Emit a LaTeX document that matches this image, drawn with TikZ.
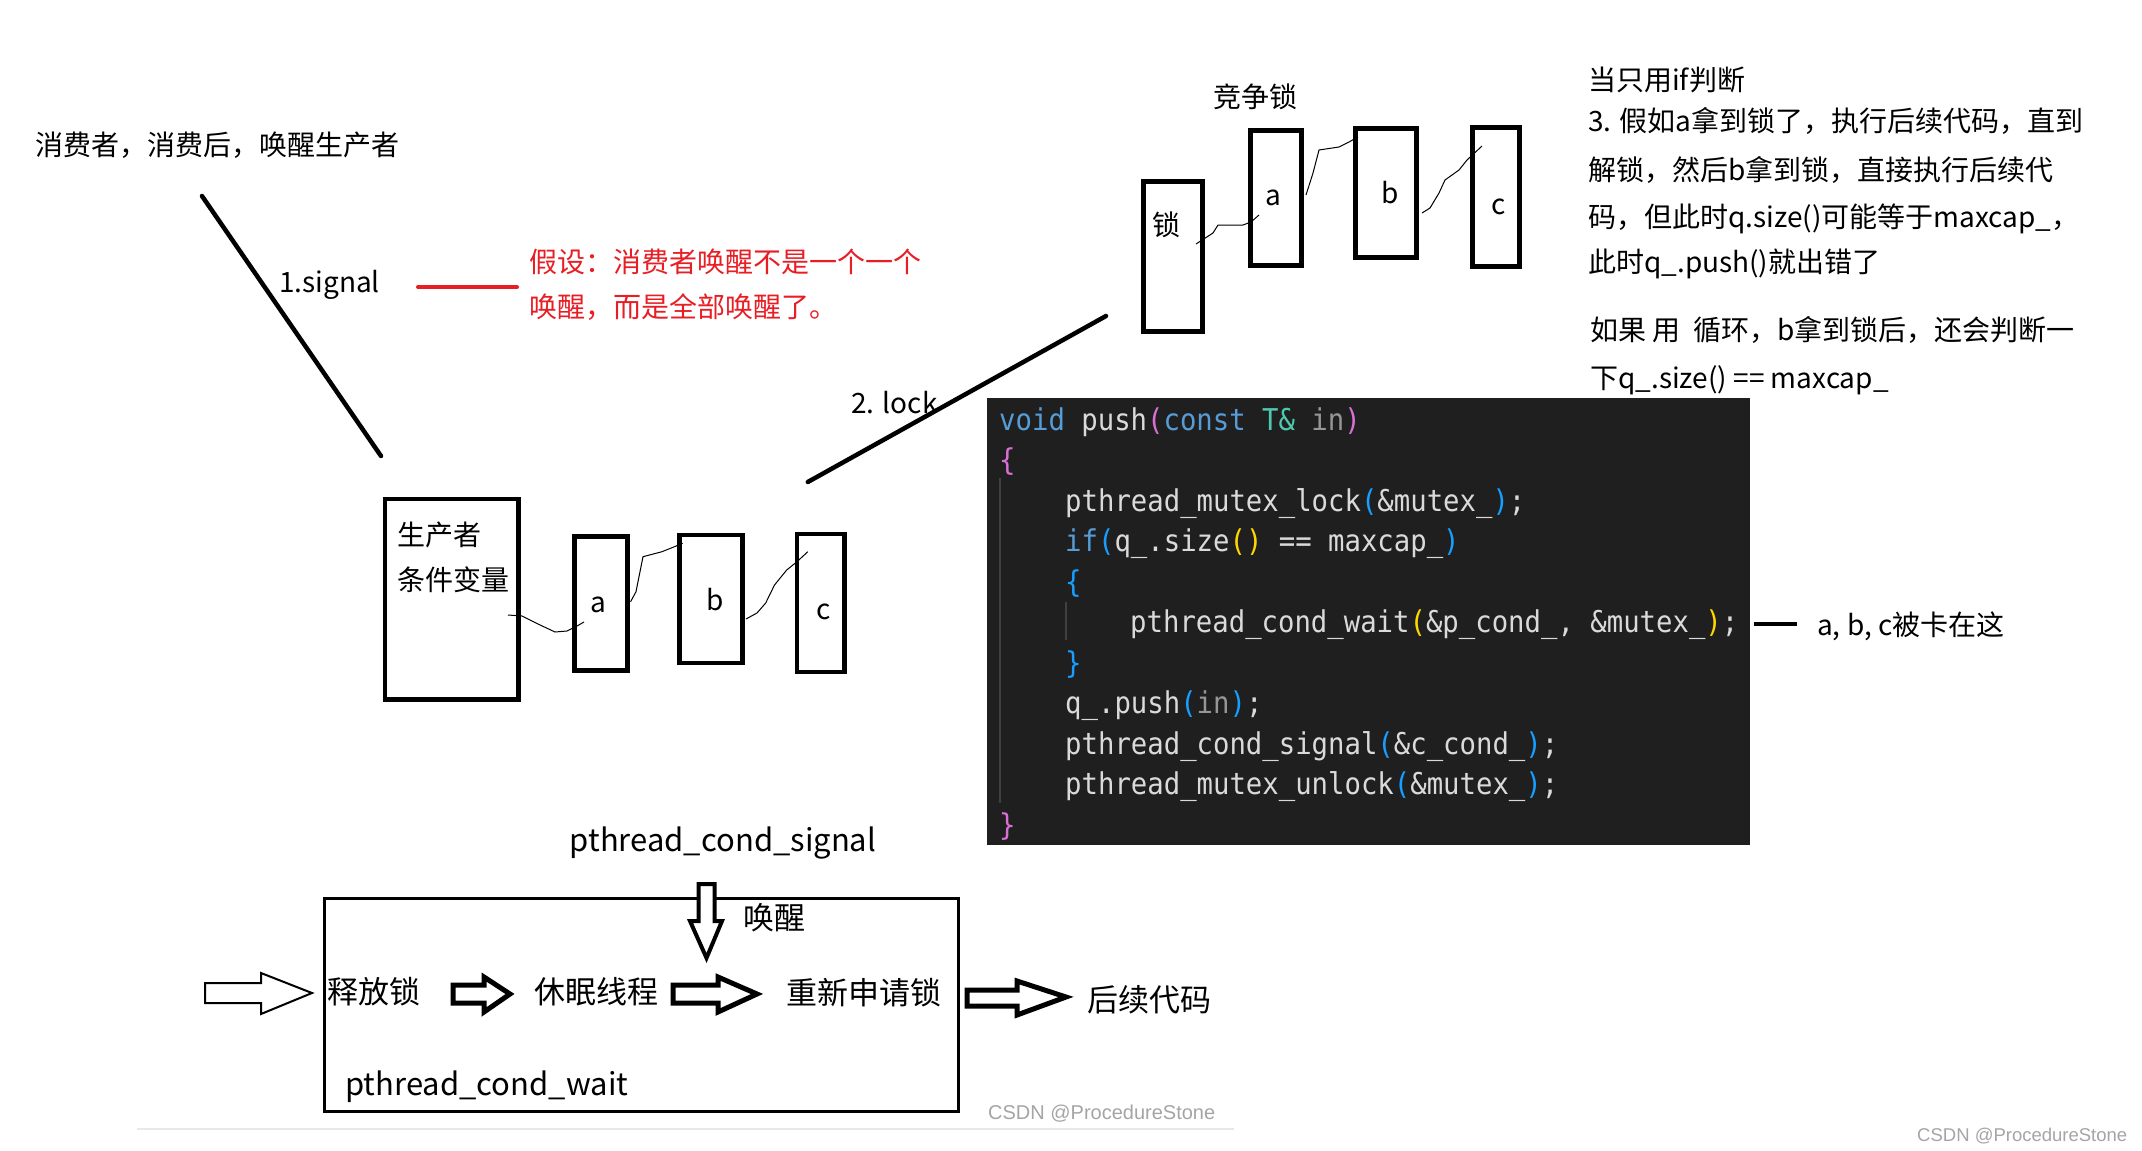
\documentclass[tikz,border=0pt]{standalone}
\usepackage{fontspec}
\newfontfamily\cjk{Noto Sans CJK SC}
\newfontfamily\codefont[FakeStretch=0.91]{DejaVu Sans Mono}
\newfontfamily\wmfont{Liberation Sans}
\definecolor{redtxt}{RGB}{232,30,37}
\definecolor{codebg}{RGB}{31,31,31}
\definecolor{codefg}{RGB}{218,218,218}
\definecolor{ckw}{RGB}{86,156,214}
\definecolor{cty}{RGB}{78,201,176}
\definecolor{cdm}{RGB}{150,150,150}
\definecolor{cpk}{RGB}{218,112,214}
\definecolor{cbl}{RGB}{23,159,255}
\definecolor{cyl}{RGB}{255,215,0}
\definecolor{guide}{RGB}{64,64,64}
\definecolor{wm}{RGB}{165,165,165}
\newcommand\cKw[1]{\textcolor{ckw}{#1}}
\newcommand\cTy[1]{\textcolor{cty}{#1}}
\newcommand\cDm[1]{\textcolor{cdm}{#1}}
\newcommand\cPk[1]{\textcolor{cpk}{#1}}
\newcommand\cBl[1]{\textcolor{cbl}{#1}}
\newcommand\cYl[1]{\textcolor{cyl}{#1}}
\begin{document}
\begin{tikzpicture}[x=1pt,y=-1pt,
  txt/.style={inner sep=0pt, anchor=base west, font=\cjk\fontsize{28}{34}\selectfont},
  txtb/.style={inner sep=0pt, anchor=base west, font=\cjk\fontsize{31}{37}\selectfont},
  lab/.style={inner sep=0pt, anchor=center, font=\cjk\fontsize{28}{34}\selectfont},
  code/.style={inner sep=0pt, anchor=base west, text=codefg, font=\codefont\fontsize{30}{36}\selectfont},
  qbox/.style={draw, line width=4.5pt, inner sep=0pt},
  tbox/.style={draw, line width=5pt, inner sep=0pt},
  stroke/.style={line width=4.5pt, line cap=round},
  wiggle/.style={line width=1pt},
  wmark/.style={inner sep=0pt, anchor=base west, text=wm, font=\wmfont\fontsize{20}{24}\selectfont},
]
\useasboundingbox (0,0) rectangle (2142,1151);
\fill[white] (0,0) rectangle (2142,1151);

% ---------- top-left ----------
\node[txt] (t1) at (35,155.5) {消费者，消费后，唤醒生产者};
\coordinate (s1a) at (202,196);
\coordinate (s1b) at (381,456);
\draw[stroke] (s1a) -- (s1b);
\node[txt] (sig) at (279,292) {1.signal};
\coordinate (r1) at (418,287);
\coordinate (r2) at (517,287);
\draw[line width=4pt, redtxt, line cap=round] (r1) -- (r2);
\node[txt, text=redtxt] (rt1) at (529,272.5) {假设：消费者唤醒不是一个一个};
\node[txt, text=redtxt] (rt2) at (529,317.5) {唤醒，而是全部唤醒了。};

% ---------- producer and queue ----------
\node[qbox, minimum width=133.7pt, minimum height=200.5pt] (prod) at (451.7,599.2) {};
\node[txt] (p1) at (397,545.5) {生产者};
\node[txt] (p2) at (397,590.5) {条件变量};
\node[qbox, minimum width=53.1pt, minimum height=134.2pt] (qa) at (600.8,603.4) {};
\node[qbox, minimum width=63.1pt, minimum height=127.8pt] (qb) at (710.8,598.9) {};
\node[qbox, minimum width=47.4pt, minimum height=137.8pt] (qc) at (820.8,602.9) {};
\node[lab] (qal) at (598,605) {a};
\node[lab] (qbl) at (715,600) {b};
\node[lab] (qcl) at (824,612) {c};
\draw[wiggle] (508,615) -- (522,616) -- (538,624) -- (555,632) -- (567,631) -- (577,626) -- (584,622);
\draw[wiggle] (630.6,601.7) -- (636,591.7) -- (643,556.7) -- (662,551.7) -- (674.5,546.7) -- (682.6,543.3);
\draw[wiggle] (746,619) -- (757,613) -- (765.7,603) -- (774.5,585) -- (786.7,570) -- (797,561.7) -- (807.8,551.7);

% ---------- lock ----------
\coordinate (l2a) at (807.8,482);
\coordinate (l2b) at (1106,316);
\draw[stroke] (l2a) -- (l2b);
\node[txt] (lk) at (851,413) {2. lock};
\node[txt] (jz) at (1213,107.5) {竞争锁};
\node[tbox, minimum width=59pt, minimum height=150pt] (lock) at (1173,256.5) {};
\node[tbox, minimum width=51.5pt, minimum height=135pt] (la) at (1275.8,197.7) {};
\node[tbox, minimum width=61.5pt, minimum height=129.3pt] (lb) at (1385.8,192.9) {};
\node[tbox, minimum width=47pt, minimum height=139pt] (lc) at (1496,197) {};
\node[lab] (lockl) at (1166,225) {锁};
\node[lab] (lal) at (1273,198) {a};
\node[lab] (lbl) at (1390,193) {b};
\node[lab] (lcl) at (1499,207) {c};
\draw[wiggle] (1196,244) -- (1213,233) -- (1218,225) -- (1243,225) -- (1251,222) -- (1259,215);
\draw[wiggle] (1306,195) -- (1313,173) -- (1319,150) -- (1339,147) -- (1349,142) -- (1358,137);
\draw[wiggle] (1422,213) -- (1430,208) -- (1439,193) -- (1445,180) -- (1459,170) -- (1467,160) -- (1482,146);

% ---------- right text ----------
\node[txt] (n1) at (1588,90.5) {当只用if判断};
\node[txt] (n2) at (1588,131.5) {3. 假如a拿到锁了，执行后续代码，直到};
\node[txt] (n3) at (1588,180.5) {解锁，然后b拿到锁，直接执行后续代};
\node[txt] (n4) at (1588,227.5) {码，但此时q.size()可能等于maxcap\_，};
\node[txt] (n5) at (1588,272.5) {此时q\_.push()就出错了};
\node[txt] (n6) at (1590,340.5) {如果 用 \ 循环，b拿到锁后，还会判断一};
\node[txt] (n7) at (1590,388.5) {下q\_.size() == maxcap\_};

% ---------- code ----------
\fill[codebg] (987,398) rectangle (1750,845);
\draw[guide, line width=1.5pt] (1000,478) -- (1000,803);
\draw[guide, line width=1.5pt] (1066,602) -- (1066,640);
\node[code] (c0) at (999,430) {\cKw{void} push\cPk{(}\cKw{const} \cTy{T\&} \cDm{in}\cPk{)}};
\node[code] (c1) at (999,470.5) {\cPk{\{}};
\node[code] (c2) at (1065,511) {pthread\_mutex\_lock\cBl{(}\&mutex\_\cBl{)};};
\node[code] (c3) at (1065,551.5) {\cKw{if}\cBl{(}q\_.size\cYl{()} == maxcap\_\cBl{)}};
\node[code] (c4) at (1065,592) {\cBl{\{}};
\node[code] (c5) at (1130,632.5) {pthread\_cond\_wait\cYl{(}\&p\_cond\_, \&mutex\_\cYl{)};};
\node[code] (c6) at (1065,673) {\cBl{\}}};
\node[code] (c7) at (1065,713.5) {q\_.push\cBl{(}\cDm{in}\cBl{)};};
\node[code] (c8) at (1065,754) {pthread\_cond\_signal\cBl{(}\&c\_cond\_\cBl{)};};
\node[code] (c9) at (1065,794.5) {pthread\_mutex\_unlock\cBl{(}\&mutex\_\cBl{)};};
\node[code] (c10) at (999,835) {\cPk{\}}};
\node[txt] (abc) at (1817,635.5) {a, b, c被卡在这};
\coordinate (k1) at (1754,624);
\coordinate (k2) at (1797,624);
\draw[line width=4.5pt] (k1) -- (k2);

% ---------- bottom: pthread_cond_wait ----------
\node[txtb] (sigt) at (569.5,851) {pthread\_cond\_signal};
\node[draw, line width=3pt, inner sep=0pt, minimum width=634pt, minimum height=213pt] (wbox) at (641.5,1005) {};
\node[txtb] (wt) at (345,1095) {pthread\_cond\_wait};
\node[txtb] (hx) at (743,929.5) {唤醒};
\node[txtb] (sf) at (327,1003.5) {释放锁};
\node[txtb] (xm) at (534,1003.5) {休眠线程};
\node[txtb] (cx) at (786,1004.5) {重新申请锁};
\node[txtb] (hxd) at (1087,1011.5) {后续代码};
\draw[line width=2pt, fill=white, line join=miter] (205,983) -- (261,983) -- (261,973) -- (312,993) -- (261,1014) -- (261,1003) -- (205,1003) -- cycle;
\draw[line width=5pt, fill=white, line join=miter] (453,985) -- (484,985) -- (484,977) -- (510,994) -- (484,1012) -- (484,1003) -- (453,1003) -- cycle;
\draw[line width=5pt, fill=white, line join=miter] (673,985) -- (718,985) -- (718,977) -- (757,994) -- (718,1012) -- (718,1003) -- (673,1003) -- cycle;
\draw[line width=5pt, fill=white, line join=miter] (967,990) -- (1017,990) -- (1017,981) -- (1066,997) -- (1017,1015) -- (1017,1006) -- (967,1006) -- cycle;
\draw[line width=4pt, fill=white, line join=miter] (698.5,884) -- (714.5,884) -- (714.5,921) -- (722,921) -- (706.5,958) -- (690,921) -- (698.5,921) -- cycle;

% ---------- watermarks ----------
\draw[line width=2pt, color={rgb,255:red,232;green,232;blue,232}] (137,1129) -- (1234,1129);
\node[wmark] (wm1) at (988,1119) {CSDN @ProcedureStone};
\node[wmark, font=\wmfont\fontsize{18.5}{22}\selectfont] (wm2) at (1917,1141.5) {CSDN @ProcedureStone};
\end{tikzpicture}
\end{document}
